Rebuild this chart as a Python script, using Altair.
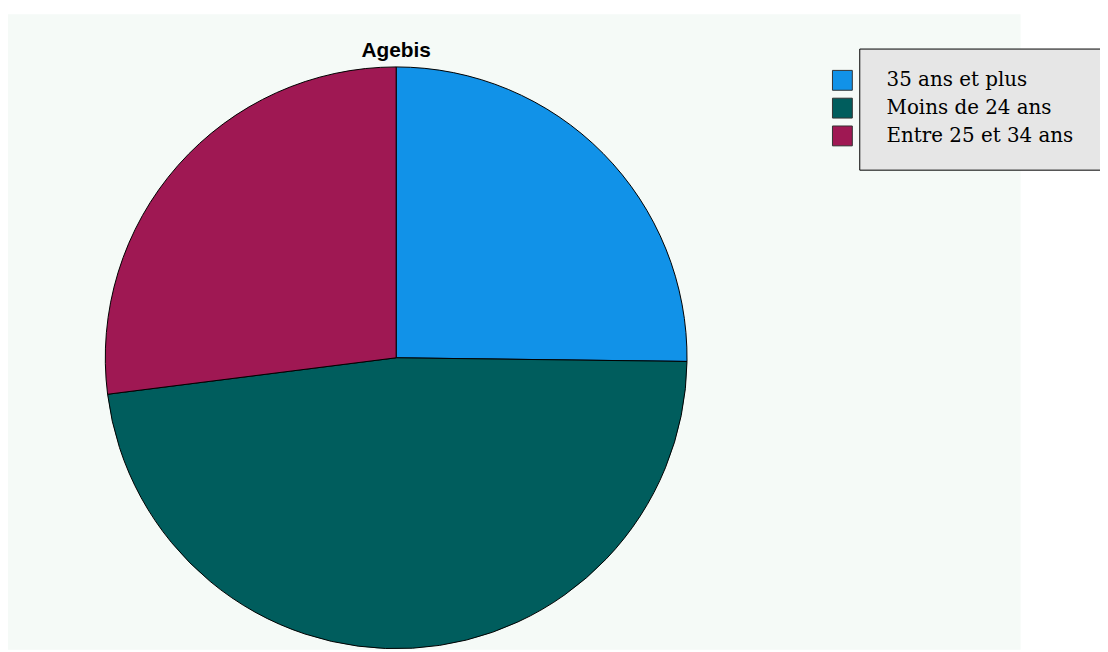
import altair as alt
import pandas as pd

# Data
categories = ["35 ans et plus", "Moins de 24 ans", "Entre 25 et 34 ans"]
values = [25.2, 47.8, 27.0]
colors = ["#1192e8", "#005d5d", "#9f1853"]
chart_title = "Agebis"

df = pd.DataFrame({"cat": categories, "val": values, "ord": list(range(len(categories)))})
box_df = pd.DataFrame({"k": [0]})

W, H = 1020, 640
CX, CY, R = 391, 346, 293

pie = alt.Chart(df).mark_arc(outerRadius=R, stroke="#000000", strokeWidth=1).encode(
    theta=alt.Theta("val:Q", stack=True),
    color=alt.Color(
        "cat:N",
        sort=categories,
        scale=alt.Scale(domain=categories, range=colors),
        legend=alt.Legend(
            title=None,
            orient="none",
            legendX=830,
            legendY=56,
            padding=0,
            symbolType="square",
            symbolSize=400,
            symbolStrokeColor="#333333",
            symbolStrokeWidth=1,
            symbolOpacity=1,
            labelFont="DejaVu Serif",
            labelFontSize=20,
            labelColor="#000000",
            labelOffset=34,
            rowPadding=3,
            labelLimit=400,
        ),
    ),
    order=alt.Order("ord:Q"),
    x=alt.value(CX),
    y=alt.value(CY),
)

box = alt.Chart(box_df).mark_rect(fill="#e6e6e6", stroke="#000000", strokeWidth=1).encode(
    x=alt.value(858), x2=alt.value(1130), y=alt.value(35), y2=alt.value(157)
)

title = alt.Chart(box_df).mark_text(
    text=chart_title, font="Liberation Sans", fontWeight="bold", fontSize=21,
    color="#000000", align="center", baseline="alphabetic"
).encode(x=alt.value(CX), y=alt.value(43))

chart = alt.layer(pie, box, title).properties(
    width=W, height=H,
    autosize=alt.AutoSizeParams(type="none"),
    padding={"left": 0, "top": 4, "right": 80, "bottom": 0},
    background="#ffffff",
).configure_view(fill="#f5faf7", strokeWidth=0)

chart.save("out.html", embed_options={"renderer": "svg", "actions": False})
